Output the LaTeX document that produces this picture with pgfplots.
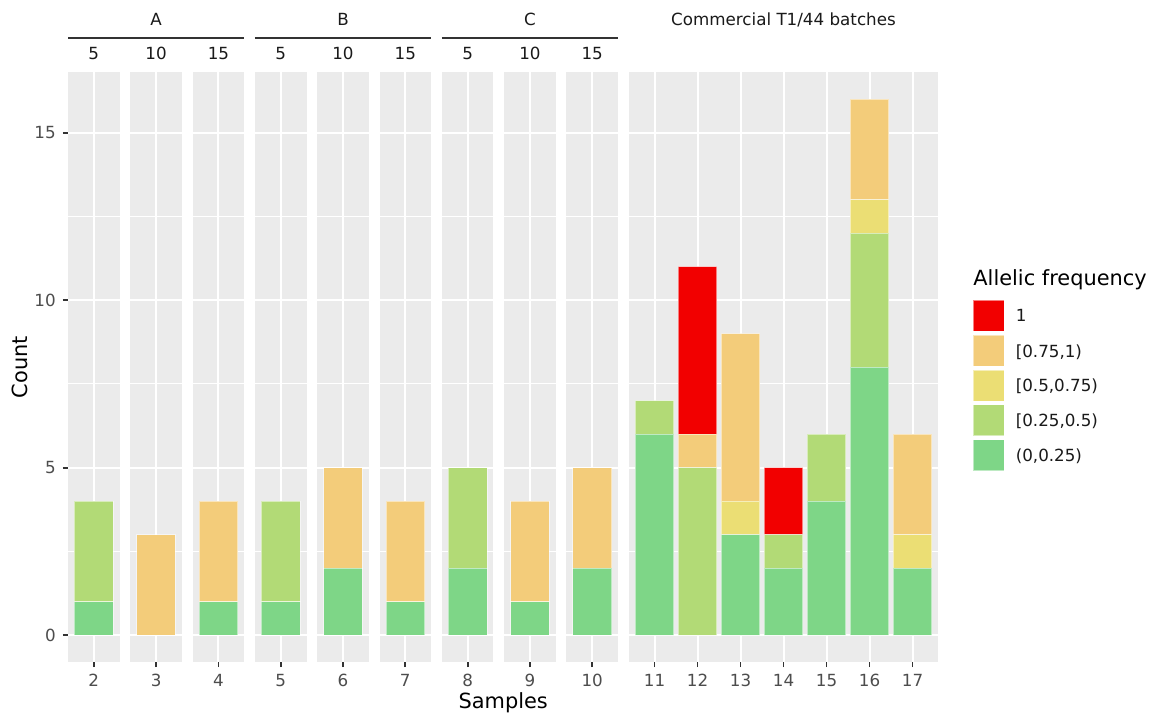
\documentclass[border=0pt]{standalone}
\usepackage{pgfplots}
\usepackage{pgfplotstable}
\pgfplotsset{compat=1.18}
\usepackage{fontspec}
\setmainfont{DejaVu Sans}
\definecolor{panelbg}{RGB}{235,235,235}
\definecolor{gray20}{RGB}{51,51,51}
\definecolor{gray30}{RGB}{77,77,77}
\definecolor{gray10}{RGB}{26,26,26}
\definecolor{cR}{RGB}{242,0,0}
\definecolor{cO}{RGB}{243,204,122}
\definecolor{cY}{RGB}{235,222,116}
\definecolor{cLG}{RGB}{178,218,118}
\definecolor{cG}{RGB}{126,214,135}
\newcommand\ticksize{\fontsize{8.36}{10}\selectfont}
\newcommand\titlesize{\fontsize{10.45}{12.5}\selectfont}

\pgfplotstableread{
s  g lg y o r
2  1 3 0 0 0
3  0 0 0 3 0
4  1 0 0 3 0
5  1 3 0 0 0
6  2 0 0 3 0
7  1 0 0 3 0
8  2 3 0 0 0
9  1 0 0 3 0
10 2 0 0 3 0
11 6 1 0 0 0
12 0 5 0 1 5
13 3 0 1 5 0
14 2 1 0 0 2
15 4 2 0 0 0
16 8 4 1 3 0
17 2 0 1 3 0
}\datatable

\pgfplotsset{
  panel/.style={
    scale only axis, height=294.8pt, anchor=south west,
    ymin=-0.8, ymax=16.8, ytick={0,5,10,15}, minor ytick={2.5,7.5,12.5},
    ymajorgrids, yminorgrids, xmajorgrids,
    major grid style={white, line width=1pt},
    minor grid style={white, line width=0.5pt},
    axis background/.style={fill=panelbg},
    axis line style={draw=none},
    tick align=outside, major tick length=2.6pt, minor tick length=0pt,
    tick style={color=gray20, line width=0.9pt},
    tick pos=left,
    ybar stacked, bar width=0.9,
    every axis plot/.append style={draw=white, draw opacity=0.5, line width=0.4pt},
    /pgf/number format/assume math mode=true,
    ticklabel style={font=\ticksize, text=gray30},
  },
  nolab/.style={yticklabels={}, ytick style={draw=none}},
}

\newcommand\bars[2]{%
  \addplot[fill=cG,  restrict x to domain=#1:#2] table[x=s,y=g]{\datatable};
  \addplot[fill=cLG, restrict x to domain=#1:#2] table[x=s,y=lg]{\datatable};
  \addplot[fill=cY,  restrict x to domain=#1:#2] table[x=s,y=y]{\datatable};
  \addplot[fill=cO,  restrict x to domain=#1:#2] table[x=s,y=o]{\datatable};
  \addplot[fill=cR,  restrict x to domain=#1:#2] table[x=s,y=r]{\datatable};
}

\newcommand\panel[3][]{%
  \pgfmathsetmacro\lo{#3-0.6}\pgfmathsetmacro\hi{#3+0.6}%
  \pgfmathsetmacro\rlo{#3-0.5}\pgfmathsetmacro\rhi{#3+0.5}%
  \begin{axis}[panel, at={(#2pt,26pt)}, width=25.8pt, xmin=\lo, xmax=\hi, xtick={#3}, #1]
    \bars{\rlo}{\rhi}
  \end{axis}%
}

\begin{document}
\begin{tikzpicture}
\fill[white] (0,0) rectangle (575.5pt,357pt);
\useasboundingbox (0,0) rectangle (575.5pt,357pt);

\panel{34}{2}
\panel[nolab]{65.15}{3}
\panel[nolab]{96.3}{4}
\panel[nolab]{127.45}{5}
\panel[nolab]{158.6}{6}
\panel[nolab]{189.75}{7}
\panel[nolab]{220.9}{8}
\panel[nolab]{252.05}{9}
\panel[nolab]{283.2}{10}

\begin{axis}[panel, nolab, at={(314.35pt,26pt)}, width=154.8pt,
  xmin=10.4, xmax=17.6, xtick={11,12,13,14,15,16,17},
  reverse legend, legend cell align=left,
  legend image code/.code={\path[#1] (0pt,-7pt) rectangle (15.5pt,8.5pt);},
  legend style={at={(1.112,0.614)}, anchor=north west, draw=none, fill=none,
    inner sep=0pt, outer sep=0pt, row sep=1.5pt, column sep=5.5pt,
    font=\ticksize, text=gray10, nodes={inner sep=0pt}}]
  \bars{10.5}{17.5}
  \legend{{(0,0.25)},{{[}0.25,0.5)},{{[}0.5,0.75)},{{[}0.75,1)},1}
\end{axis}

% strips
\begin{scope}[every node/.style={font=\ticksize, text=gray10, anchor=base}]
\node at (46.9pt,327pt) {5};
\node at (78.05pt,327pt) {10};
\node at (109.2pt,327pt) {15};
\node at (140.35pt,327pt) {5};
\node at (171.5pt,327pt) {10};
\node at (202.65pt,327pt) {15};
\node at (233.8pt,327pt) {5};
\node at (264.95pt,327pt) {10};
\node at (296.1pt,327pt) {15};
\node at (78.05pt,344pt) {A};
\node at (171.5pt,344pt) {B};
\node at (264.95pt,344pt) {C};
\node at (391.75pt,344pt) {Commercial T1/44 batches};
\end{scope}
\draw[gray20, line width=0.9pt] (34pt,338pt) -- (122.1pt,338pt);
\draw[gray20, line width=0.9pt] (127.45pt,338pt) -- (215.55pt,338pt);
\draw[gray20, line width=0.9pt] (220.9pt,338pt) -- (309pt,338pt);

\node[rotate=90, font=\titlesize] at (10pt,173.4pt) {Count};
\node[font=\titlesize] at (251.6pt,5.5pt) {Samples};
\node[anchor=west, font=\titlesize, inner sep=0pt] at (486.5pt,217pt) {Allelic frequency};
\end{tikzpicture}
\end{document}
